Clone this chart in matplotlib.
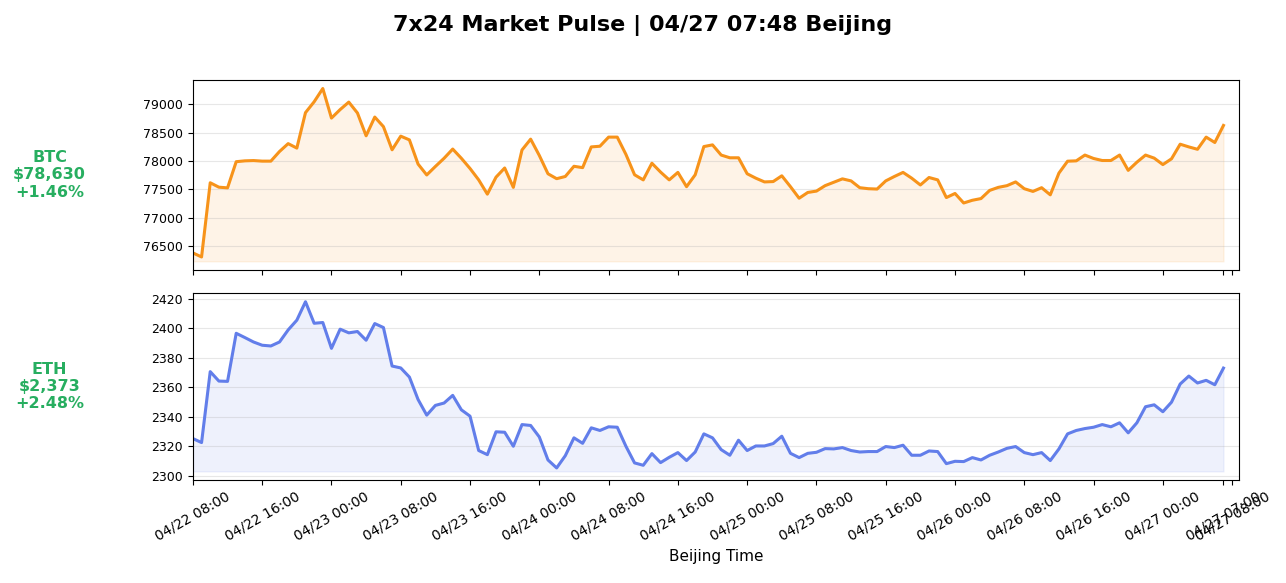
import matplotlib
matplotlib.use("Agg")
import matplotlib.pyplot as plt
import matplotlib.dates as mdates
import pandas as pd

# hourly closes, Beijing time
times = pd.date_range("2025-04-22 08:00", periods=120, freq="h")

btc_prices = [
    76380, 76308, 77618, 77540, 77528, 77990, 78005, 78010, 78000, 78000,
    78170, 78309, 78230, 78856, 79048, 79282, 78760, 78910, 79042, 78850,
    78447, 78778, 78609, 78200, 78441, 78375, 77948, 77756, 77906, 78050,
    78213, 78050, 77870, 77669, 77417, 77717, 77879, 77537, 78197, 78388,
    78100, 77777, 77690, 77729, 77909, 77885, 78251, 78263, 78424, 78424,
    78119, 77759, 77669, 77963, 77807, 77669, 77801, 77549, 77759, 78257,
    78287, 78107, 78059, 78059, 77777, 77699, 77633, 77639, 77741, 77549,
    77345, 77447, 77471, 77567, 77627, 77687, 77651, 77531, 77513, 77507,
    77651, 77729, 77801, 77699, 77579, 77711, 77669, 77357, 77429, 77261,
    77309, 77339, 77483, 77537, 77567, 77633, 77513, 77465, 77531, 77405,
    77789, 77999, 78005, 78107, 78047, 78011, 78011, 78107, 77837, 77981,
    78107, 78053, 77939, 78041, 78299, 78251, 78209, 78424, 78329, 78630,
]

eth_prices = [
    2325.2, 2322.5, 2370.6, 2364.2, 2364.0, 2396.6, 2393.7, 2390.7, 2388.5, 2388.0,
    2390.7, 2398.9, 2405.5, 2418.0, 2403.4, 2403.9, 2386.4, 2399.4, 2396.9, 2397.8,
    2391.9, 2403.2, 2400.5, 2374.4, 2373.1, 2366.9, 2351.7, 2341.1, 2347.7, 2349.3,
    2354.5, 2344.7, 2340.4, 2317.1, 2314.3, 2329.8, 2329.5, 2320.0, 2334.7, 2334.1,
    2326.3, 2310.7, 2305.3, 2313.6, 2325.7, 2322.0, 2332.5, 2330.7, 2333.2, 2332.9,
    2320.0, 2308.7, 2307.1, 2315.0, 2308.9, 2312.5, 2315.7, 2310.3, 2316.1, 2328.4,
    2325.7, 2317.7, 2313.9, 2324.1, 2317.1, 2320.2, 2320.2, 2321.8, 2326.8, 2315.2,
    2312.3, 2315.2, 2315.9, 2318.4, 2318.2, 2319.1, 2317.1, 2316.1, 2316.4, 2316.4,
    2319.8, 2319.1, 2320.7, 2313.9, 2313.9, 2316.8, 2316.4, 2308.2, 2309.8, 2309.6,
    2312.3, 2310.7, 2313.9, 2316.1, 2318.6, 2319.8, 2315.7, 2314.3, 2315.7, 2310.3,
    2318.2, 2328.4, 2330.7, 2332.0, 2332.9, 2334.7, 2333.2, 2335.9, 2329.1, 2335.9,
    2346.8, 2348.1, 2343.4, 2349.9, 2362.2, 2367.6, 2362.9, 2364.7, 2361.7, 2373.0,
]

coins = ["BTC", "ETH"]
prices = [btc_prices, eth_prices]
price_labels = ["$78,630", "$2,373"]
changes = ["+1.46%", "+2.48%"]
colors = ["#f7931a", "#627eea"]

fig = plt.figure(figsize=(12.86, 5.83), dpi=100)
ax1 = fig.add_axes([0.150, 0.537, 0.8135, 0.326])
ax2 = fig.add_axes([0.150, 0.177, 0.8135, 0.320], sharex=ax1)
axes = [ax1, ax2]

for ax, coin, values, price, change, color in zip(axes, coins, prices, price_labels, changes, colors):
    ax.plot(times, values, color=color, linewidth=2.2)
    ax.fill_between(times, values, min(values) * 0.999, color=color, alpha=0.1)
    ax.grid(axis="y", alpha=0.3)
    ax.tick_params(axis="y", labelsize=9)
    ax.text(-0.137, 0.5, f"{coin}\n{price}\n{change}", transform=ax.transAxes,
            ha="center", va="center", fontsize=11.5, fontweight="bold",
            color="#27ae60", linespacing=1.2)

ticks = list(pd.date_range(times[0], "2025-04-27 00:00", freq="8h"))
ticks += [times[-1], times[-1] + pd.Timedelta(hours=1)]
ax2.set_xticks(ticks)
ax2.xaxis.set_major_formatter(mdates.DateFormatter("%m/%d %H:%M"))
ax2.set_xlim(times[0], times[-1] + pd.Timedelta(hours=1.8))
plt.setp(ax1.get_xticklabels(), visible=False)
plt.setp(ax2.get_xticklabels(), rotation=30, fontsize=10)
ax2.set_xlabel("Beijing Time", fontsize=11)

fig.suptitle("7x24 Market Pulse | 04/27 07:48 Beijing", fontsize=16, fontweight="bold", y=0.975)

fig.savefig("out.png", dpi=100)
